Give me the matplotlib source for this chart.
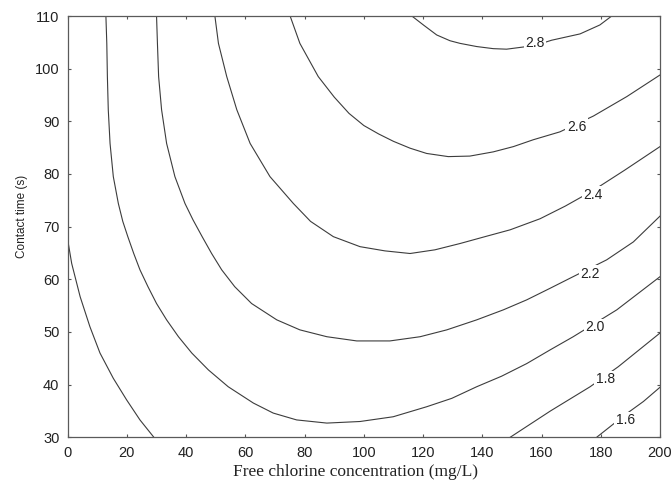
import matplotlib
matplotlib.use("Agg")
import matplotlib.pyplot as plt

# Iso-lines of the response surface.
# x = free chlorine (mg/L), t = contact time (s)
c16_x = [178.6, 183.1, 188.5, 194.4, 200.0]
c16_t = [30.0, 32.0, 34.4, 36.8, 39.5]

c18r_x = [149.4, 163.0, 176.4, 185.9, 200.0]
c18r_t = [30.0, 35.0, 39.6, 43.4, 49.8]

c18l_x = [0.0, 1.35, 4.2, 7.5, 10.9, 15.4, 19.9, 24.4, 29.1]
c18l_t = [67.5, 63.0, 56.7, 51.0, 46.0, 41.2, 37.1, 33.3, 30.0]

c20_x = [12.9, 13.2, 13.4, 13.7, 14.3, 15.4, 17.1, 18.6, 20.3, 22.3, 24.4,
         27.1, 30.0, 33.4, 37.4, 41.9, 47.5, 54.2, 62.7, 69.4, 77.3, 87.5,
         98.7, 109.9, 121.2, 129.7, 138.1, 146.5, 155.0, 162.9, 170.7, 185.4,
         200.0]
c20_t = [110.0, 104.8, 98.5, 92.2, 85.8, 79.5, 74.4, 71.0, 68.1, 64.9, 61.8,
         58.6, 55.4, 52.3, 49.1, 46.0, 42.8, 39.6, 36.5, 34.6, 33.3, 32.7,
         33.0, 33.9, 35.8, 37.4, 39.6, 41.6, 44.0, 46.6, 49.1, 54.2, 60.5]

c22_x = [30.0, 30.3, 30.7, 31.7, 33.4, 36.2, 39.6, 42.3, 45.4, 48.6, 52.0,
         56.4, 62.1, 70.6, 78.4, 87.5, 97.6, 108.8, 119.0, 128.0, 138.1,
         147.1, 155.0, 162.9, 169.6, 182.0, 191.0, 200.0]
c22_t = [110.0, 104.8, 98.5, 92.2, 85.8, 79.5, 74.4, 71.3, 68.1, 64.9, 61.8,
         58.6, 55.4, 52.3, 50.4, 49.1, 48.3, 48.3, 49.1, 50.4, 52.3, 54.2,
         56.1, 58.3, 60.2, 63.7, 67.1, 72.0]

c24_x = [49.7, 50.9, 53.7, 57.1, 61.6, 68.3, 76.2, 82.0, 89.7, 98.7, 107.1,
         115.6, 124.0, 132.5, 140.9, 149.4, 159.5, 168.0, 177.5, 188.0, 200.0]
c24_t = [110.0, 104.8, 98.5, 92.2, 85.8, 79.5, 74.4, 71.0, 68.1, 66.2, 65.4,
         64.9, 65.6, 66.8, 68.1, 69.4, 71.5, 73.9, 76.9, 80.7, 85.2]

c26_x = [75.1, 78.4, 84.6, 90.0, 95.0, 100.0, 105.0, 110.0, 115.6, 121.2,
         128.5, 135.8, 143.7, 150.5, 157.2, 166.2, 177.5, 188.8, 200.0]
c26_t = [110.0, 104.8, 98.5, 94.6, 91.5, 89.2, 87.6, 86.2, 84.9, 83.9,
         83.3, 83.4, 84.2, 85.2, 86.5, 88.0, 91.0, 94.7, 98.8]

c28_x = [116.2, 120.1, 124.6, 129.1, 132.5, 138.1, 143.7, 148.2, 157.8,
         163.4, 173.0, 179.7, 183.7]
c28_t = [110.0, 108.3, 106.4, 105.3, 104.8, 104.2, 103.8, 103.7, 104.4,
         105.4, 106.6, 108.3, 110.0]

curves = [(c16_x, c16_t), (c18r_x, c18r_t), (c18l_x, c18l_t), (c20_x, c20_t),
          (c22_x, c22_t), (c24_x, c24_t), (c26_x, c26_t), (c28_x, c28_t)]

# inline labels (value, x, t)
label_txt = ["1.6", "1.8", "2.0", "2.2", "2.4", "2.6", "2.8"]
label_x = [188.3, 181.5, 178.1, 176.4, 177.5, 171.9, 157.8]
label_t = [33.2, 41.0, 50.9, 61.1, 76.0, 89.0, 104.8]

x_ticks = list(range(0, 201, 20))
t_ticks = list(range(30, 111, 10))

fig = plt.figure(figsize=(6.72, 4.92), dpi=100)
ax = fig.add_axes([67.7 / 672, 1 - 437.3 / 492, 592.3 / 672, 421.3 / 492])

line_col = "#3c3c3c"
for xs, ts in curves:
    ax.plot(xs, ts, color=line_col, linewidth=0.8, solid_joinstyle="round")

for txt, lx, lt in zip(label_txt, label_x, label_t):
    ax.text(lx, lt, txt, ha="center", va="center", fontsize=10,
            family="Liberation Sans", color="#222222",
            bbox=dict(facecolor="white", edgecolor="none", pad=1.2))

ax.set_xlim(0, 200)
ax.set_ylim(30, 110)
ax.set_xticks(x_ticks)
ax.set_yticks(t_ticks)
ax.tick_params(direction="in", length=2.5, width=0.8, color="#555555",
               top=True, right=True, labelsize=10.5, pad=6, labelcolor="#222222")
for lab in ax.get_xticklabels() + ax.get_yticklabels():
    lab.set_family("Liberation Sans")
for sp in ax.spines.values():
    sp.set_color("#5a5a5a")
    sp.set_linewidth(0.9)

ax.set_xlabel("Free chlorine concentration (mg/L)", family="Liberation Serif",
              fontsize=12.5, color="#222222")
ax.xaxis.label.set_va("center")
ax.xaxis.set_label_coords(0.486, -0.082)
ax.set_ylabel("Contact time (s)", family="Liberation Sans", fontsize=8.5,
              color="#222222")
ax.yaxis.label.set_va("center")
ax.yaxis.set_label_coords(-0.078, 0.524)

fig.savefig("out.png", dpi=100)
